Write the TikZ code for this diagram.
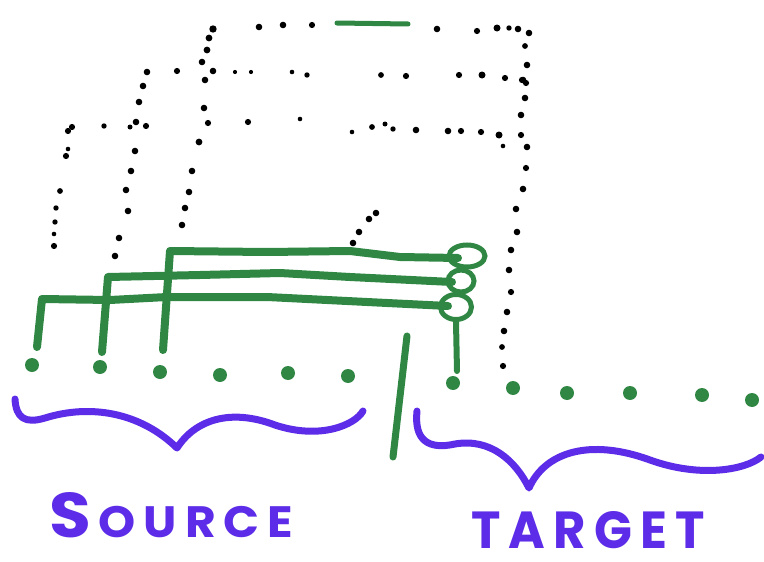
\documentclass[tikz,border=0pt]{standalone}
\usepackage{fontspec}
\setmainfont{Poppins}
\usetikzlibrary{shapes.geometric,calc}
\definecolor{penGreen}{RGB}{48,135,68}
\definecolor{penPurple}{RGB}{92,44,232}
\begin{document}
\begin{tikzpicture}[x=1pt,y=-1pt,
  gdot/.style={circle,fill=penGreen,inner sep=0pt,minimum size=14pt},
  gbar/.style={draw=penGreen,line width=8pt,line cap=round,line join=round},
  ring/.style={ellipse,draw=penGreen,line width=5pt,inner sep=0pt},
  brace/.style={draw=penPurple,line width=7pt,line cap=round,line join=round},
  handtext/.style={text=penPurple,inner sep=0pt,anchor=south west,font=\bfseries}]
\useasboundingbox (0,0) rectangle (764,562);
\newcommand\inkdots[1]{\foreach \px/\py/\pr in {#1} {\fill (\px,\py) circle[radius=\pr pt+0.5pt];}}

% source and target positions
\node[gdot] (s1) at (32,365) {};
\node[gdot] (s2) at (100,367) {};
\node[gdot] (s3) at (160,372) {};
\node[gdot] (s4) at (220,375) {};
\node[gdot] (s5) at (288,373) {};
\node[gdot] (s6) at (348,376) {};
\node[gdot] (t1) at (453,383) {};
\node[gdot] (t2) at (513,388) {};
\node[gdot] (t3) at (567,393) {};
\node[gdot] (t4) at (630,393) {};
\node[gdot] (t5) at (702,395) {};
\node[gdot] (t6) at (752,400) {};

% divider between the two halves
\coordinate (dtop) at (407,336);
\coordinate (dbot) at (393,457);
\draw[gbar,line width=7pt] (dtop) -- (dbot);

% three green lines from the first source positions
\coordinate (b1) at (37,347);
\coordinate (b2) at (102,352);
\coordinate (b3) at (163,350);
\coordinate (e1) at (448,306);
\coordinate (e2) at (452,282);
\coordinate (e3) at (458,258);
\draw[gbar] (b1) -- (42,299) -- (110,300) -- (167,297) -- (267,297) -- (367,302) -- (e1);
\draw[gbar] (b2) -- (108,277) -- (200,275) -- (280,273) -- (350,277) -- (e2);
\draw[gbar] (b3) -- (170,251) -- (267,252) -- (350,251) -- (400,257) -- (e3);

% stacked rings where the three lines meet
\node[ring,minimum width=36pt,minimum height=22pt] (l3) at (467,256) {};
\node[ring,minimum width=26pt,minimum height=22pt] (l2) at (461,281) {};
\node[ring,minimum width=31pt,minimum height=25pt] (l1) at (456,307) {};

% stem down to the first target position
\coordinate (stem) at (457,371);
\draw[gbar,line width=6pt] (l1.south) -- (stem);

% green stroke on the top dotted route
\coordinate (ga) at (337,23);
\coordinate (gb) at (408,24);
\draw[gbar,line width=5pt] (ga) -- (gb);

% dotted routes
\inkdots{182/225/2.8, 185/208/2.8, 189/192/2.8, 192/171/2.8, 199/142/2.9, 208/123/2.6,
  204/108/2.8, 205/80/2.8, 213/71/2.8, 202/62/2.8, 207/50/2.9, 209/38/2.9, 213/29/3.2,
  259/27/2.8, 283/25/2.8, 312/25/2.6, 437/29/2.8, 477/31/2.6, 497/28/3, 509/28/2.2,
  518/29/2.8, 529/33/2.8,
  525/46/2.4, 527/65/2.8, 523/80/2.8, 526/83/2.6, 525/98/2.8, 521/115/2.8, 521/135/2.6,
  527/147/2.8, 526/168/2.6, 523/189/2.8, 516/209/2.8, 517/232/2.8, 511/250/2.8,
  509/270/2.8, 511/292/2.6, 507/312/2.8, 504/331/2.8, 502/347/2.4, 503/366/2.6}
\inkdots{115/256/2.8, 119/238/2.8, 128/211/2.8, 126/190/2.8, 131/171/2.8, 135/151/2.8,
  136/122/2.8, 139/102/2.8, 143/86/2.8, 147/72/2.8,
  177/71/2.6, 235/72/1.6, 251/72/1.6, 292/72/1.8, 307/75/2.2, 381/75/2.4, 406/76/2.6,
  459/75/2.6, 482/75/3, 505/78/2.6, 522/80/2.6}
\inkdots{54/246/2.6, 54/234/1.8, 55/222/2.2, 56/208/2.2, 60/191/2.4, 66/156/2.6,
  68/149/1.8, 68/131/2.6, 72/127/2.6,
  104/126/2.2, 130/127/2, 146/126/2.6, 248/122/2.6, 300/119/1.8, 352/132/1.8,
  372/127/2.4, 385/124/2, 393/129/2.2, 416/130/2.8, 448/131/2.8, 461/131/2.6,
  481/132/2.6, 499/135/3, 503/146/1.8}
\inkdots{353/243/2.8, 359/232/2.8, 369/219/2.8, 376/213/2.8}

% braces
\coordinate (srcL) at (15,399);
\coordinate (srcTip) at (177,448);
\coordinate (srcR) at (363,411);
\draw[brace] (srcL) .. controls (16,418) and (25,424) .. (45,418)
  .. controls (90,404) and (140,412) .. (srcTip)
  .. controls (195,420) and (230,408) .. (275,425)
  .. controls (320,440) and (355,425) .. (srcR);
\coordinate (tgtL) at (417,411);
\coordinate (tgtTip) at (529,488);
\coordinate (tgtR) at (761,457);
\draw[brace] (tgtL) .. controls (414,440) and (428,450) .. (455,444)
  .. controls (490,438) and (515,460) .. (tgtTip)
  .. controls (545,452) and (590,438) .. (650,460)
  .. controls (700,478) and (745,470) .. (tgtR);

% captions
\node[handtext] (srcText) at (49,538) {\resizebox{244pt}{45pt}{{\Large S}\,O\,U\,R\,C\,E}};
\node[handtext] (tgtText) at (471,549) {\resizebox{234pt}{37pt}{T\,A\,R\,G\,E\,T}};
\end{tikzpicture}
\end{document}
